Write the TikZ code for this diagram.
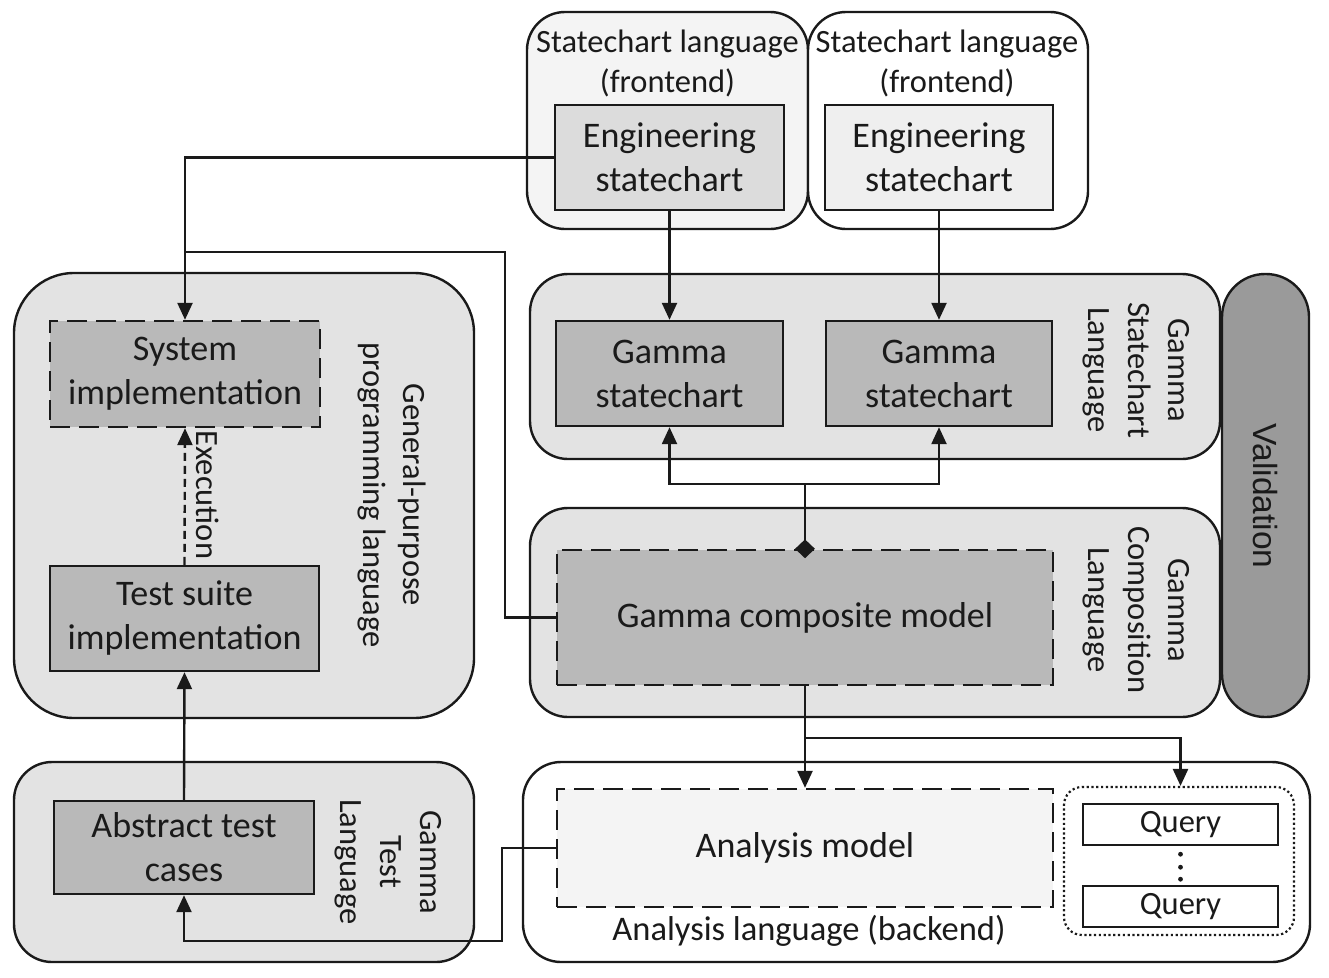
\documentclass[tikz,border=0pt]{standalone}
\usepackage{fontspec}
\setmainfont{Carlito}
\newfontfamily\valfont{Liberation Sans}
\usetikzlibrary{arrows.meta,shapes.geometric}
\definecolor{txt}{HTML}{1A1A1A}
\definecolor{cont}{HTML}{E3E3E3}
\definecolor{boxg}{HTML}{B9B9B9}
\definecolor{light}{HTML}{F4F4F4}
\definecolor{engA}{HTML}{DCDCDC}
\definecolor{engB}{HTML}{EFEFEF}
\definecolor{valg}{HTML}{9A9A9A}
\tikzset{
  lw/.style={line width=2.4pt, draw=txt},
  container/.style={lw, rounded corners=38pt, inner sep=0pt},
  boxn/.style={lw, fill=boxg, inner sep=0pt, align=center, text=txt, font=\fontsize{36}{44}\selectfont},
  dashbox/.style={boxn, dash pattern=on 20pt off 9pt},
  lab/.style={align=center, text=txt, font=\fontsize{32.5}{40}\selectfont, inner sep=0pt},
  qbox/.style={lw, minimum width=195, minimum height=41, inner sep=0pt, text=txt, font=\fontsize{32.5}{38}\selectfont},
  conn/.style={lw},
  arr/.style={lw, -{Triangle[length=17pt,width=15pt]}},
}
\begin{document}
\begin{tikzpicture}[x=1pt,y=-1pt]
\useasboundingbox[fill=white] (0,0) rectangle (1329,977);
% containers
\node[container, fill=light, minimum width=281, minimum height=217] (fe1) at (667.5,120.5) {};
\node[container, fill=white, minimum width=280, minimum height=217] (fe2) at (948,120.5) {};
\node[container, fill=cont, minimum width=690, minimum height=185] (gsl) at (875,366.5) {};
\node[container, fill=cont, minimum width=690, minimum height=209] (gcl) at (875,612.5) {};
\node[lw, fill=valg, rounded corners=43pt, minimum width=87, minimum height=443, inner sep=0pt] (val) at (1265.5,495.5) {};
\node[container, rounded corners=60pt, fill=cont, minimum width=460, minimum height=445] (gpl) at (244,495.5) {};
\node[container, fill=cont, minimum width=460, minimum height=200] (gtl) at (244,862) {};
\node[container, fill=white, minimum width=787, minimum height=200] (al) at (916.5,862) {};
% labels
\node[lab] (fe1l) at (667.5,63) {Statechart language\\(frontend)};
\node[lab] (fe2l) at (947,63) {Statechart language\\(frontend)};
\node[lab, rotate=-90] (gsll) at (1136,370) {Gamma\\Statechart\\Language};
\node[lab, rotate=-90] (gcll) at (1136,610) {Gamma\\Composition\\Language};
\node[lab, rotate=-90] (gpll) at (392,495) {General-purpose\\programming language};
\node[lab, rotate=-90] (gtll) at (388,862) {Gamma\\Test\\Language};
\node[lab, font=\fontsize{34.5}{40}\selectfont] (all) at (809,931) {Analysis language (backend)};
\node[rotate=-90, text=txt, font=\valfont\fontsize{33.5}{40}\selectfont, inner sep=0pt] (vall) at (1265.5,496) {Validation};
% boxes
\node[boxn, fill=engA, minimum width=229, minimum height=105] (eng1) at (669.5,157.5) {Engineering\\statechart};
\node[boxn, fill=engB, minimum width=228, minimum height=105] (eng2) at (939,157.5) {Engineering\\statechart};
\node[boxn, minimum width=227, minimum height=105] (gs1) at (669.5,373.5) {Gamma\\statechart};
\node[boxn, minimum width=226, minimum height=105] (gs2) at (939,373.5) {Gamma\\statechart};
\node[dashbox, minimum width=496, minimum height=135] (comp) at (805,617.5) {Gamma composite model};
\node[dashbox, minimum width=270, minimum height=106] (sys) at (185,374) {System\\implementation};
\node[boxn, minimum width=269, minimum height=105] (ts) at (184.5,618.5) {Test suite\\implementation};
\node[boxn, minimum width=260, minimum height=93] (atc) at (184,847.5) {Abstract test\\cases};
\node[dashbox, fill=light, minimum width=496, minimum height=118] (am) at (805,848) {Analysis model};
\node[lw, rounded corners=18pt, dash pattern=on 2.2pt off 2.6pt, line width=2.2pt, minimum width=230, minimum height=148, inner sep=0pt] (qs) at (1179,861) {};
\node[qbox] (q1) at (1180.5,824.5) {Query};
\node[qbox] (q2) at (1180.5,906.5) {Query};
\fill[txt] ([yshift=-8pt]q1.south) circle (2.4pt) ([yshift=-21pt]q1.south) circle (2.4pt) ([yshift=-33pt]q1.south) circle (2.4pt);
% connectors
\coordinate (c1) at (505,252);
\coordinate (c2) at (502,941);
\coordinate (b1) at (805,738);
\draw[arr] (eng1.west) -| (sys.north);
\draw[conn] (comp.west) -| (c1) -- (c1 -| sys.north);
\draw[arr] (eng1.south) -- (gs1.north);
\draw[arr] (eng2.south) -- (gs2.north);
\draw[conn] (comp.north) -- ++(0,-65) coordinate (d);
\draw[arr] (d) -| (gs1.south);
\draw[arr] (d) -| (gs2.south);
\node[diamond, fill=txt, inner sep=0pt, minimum width=20pt, minimum height=19pt] (dia) at (comp.north) {};
\draw[arr] (comp.south) -- (am.north);
\draw[arr] (b1) -| (qs.north -| q1.north);
\draw[arr] (am.west) -| (c2) -| (atc.south);
\draw[arr, dash pattern=on 8pt off 5pt] (ts.north) -- (sys.south);
\node[lab, rotate=-90] (exe) at (208,495) {Execution};
\draw[arr] (atc.north) -- (ts.south);
\end{tikzpicture}
\end{document}
